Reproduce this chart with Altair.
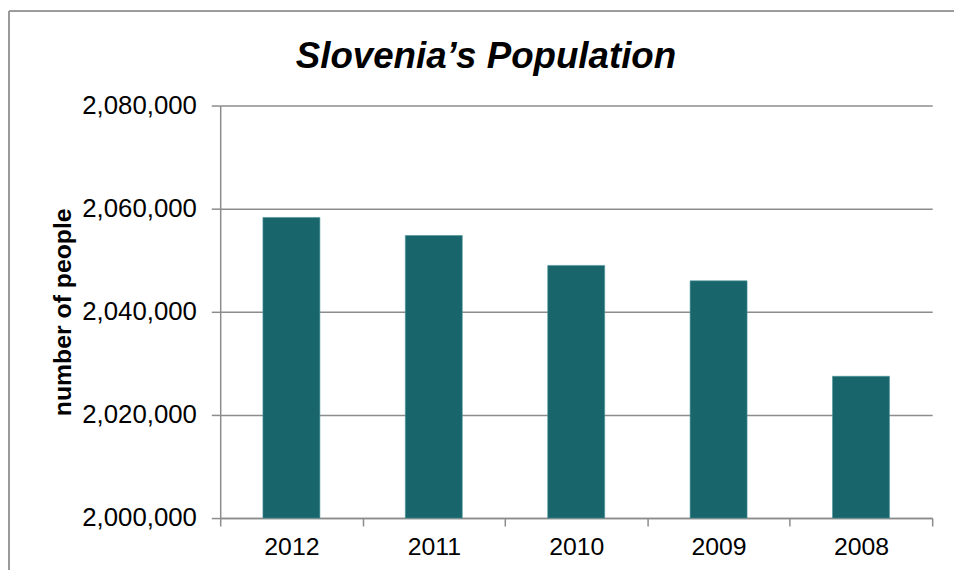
import altair as alt
import pandas as pd

years = ["2012", "2011", "2010", "2009", "2008"]
population = [2058300, 2054800, 2049000, 2046000, 2027500]
axis_min = 2000000
axis_max = 2080000
y_ticks = [2000000, 2020000, 2040000, 2060000, 2080000]

df = pd.DataFrame({"year": years, "population": population})

FONT = "Liberation Sans"
GRID = "#8c8c8c"

bars = alt.Chart(df).mark_bar(
    color="#18656b", stroke="#4a9499", strokeWidth=0.6, width=alt.RelativeBandSize(0.4)
).encode(
    x=alt.X(
        "year:N",
        sort=None,
        title=None,
        scale=alt.Scale(paddingInner=0, paddingOuter=0),
        axis=alt.Axis(
            labelAngle=0,
            labelFontSize=25,
            labelFont=FONT,
            labelColor="#000000",
            labelPadding=9,
            tickBand="extent",
            tickSize=8,
            tickColor=GRID,
            tickWidth=1.5,
            domainColor=GRID,
            domainWidth=1.5,
            grid=False,
        ),
    ),
    y=alt.Y(
        "population:Q",
        title="number of people",
        scale=alt.Scale(domain=[axis_min, axis_max], nice=False, zero=False),
        axis=alt.Axis(
            values=y_ticks,
            format=",d",
            labelFontSize=26,
            labelFont=FONT,
            labelColor="#000000",
            labelPadding=15,
            tickSize=9,
            tickColor=GRID,
            tickWidth=1.5,
            domainColor=GRID,
            domainWidth=1.5,
            grid=True,
            gridColor=GRID,
            gridWidth=1.5,
            titleFont=FONT,
            titleFontSize=25,
            titleFontWeight="bold",
            titleColor="#000000",
            titlePadding=6,
        ),
    ),
    y2=alt.datum(axis_min),
)

border_top = alt.Chart(df).mark_rule(color="#9a9a9a", strokeWidth=1.5).encode(
    x=alt.value(-213), x2=alt.value(760), y=alt.value(-95)
)
border_left = alt.Chart(df).mark_rule(color="#9a9a9a", strokeWidth=1.5).encode(
    x=alt.value(-213), y=alt.value(-95), y2=alt.value(480)
)

chart = alt.layer(bars, border_top, border_left).properties(
    width=718,
    height=416,
    autosize=alt.AutoSizeParams(type="none"),
    padding={"left": 214, "top": 96, "right": 22, "bottom": 50},
    title=alt.Title(
        "Slovenia\u2019s Population",
        font=FONT,
        fontSize=37,
        fontWeight="bold",
        fontStyle="italic",
        color="#000000",
        anchor="middle",
        frame="group",
        baseline="alphabetic",
        dx=-91,
        dy=95,
        offset=0,
    ),
).configure_view(stroke=None)

chart.save("out.html", embed_options={"renderer": "svg", "actions": False})
